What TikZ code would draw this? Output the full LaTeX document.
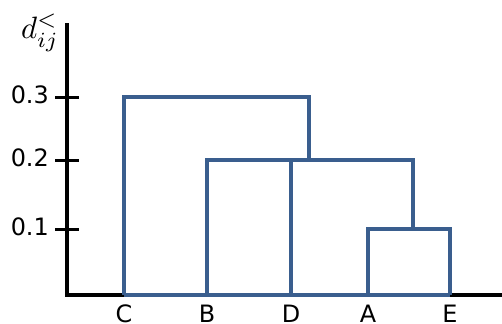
\documentclass[tikz,border=0pt]{standalone}
\usepackage{fontspec}
\setmainfont{DejaVu Sans}
\definecolor{treeblue}{HTML}{3A5E8E}
\begin{document}
\begin{tikzpicture}[x=1bp,y=-1bp,
  axisline/.style={line width=4bp,black},
  tickline/.style={line width=3bp,black},
  branch/.style={line width=4bp,treeblue,line join=miter},
  ticklabel/.style={anchor=east,font=\fontsize{24}{24}\selectfont,inner sep=0pt},
  leaflabel/.style={anchor=north,font=\fontsize{24}{24}\selectfont,inner sep=0pt}]
\useasboundingbox (0,0) rectangle (502,323);

% axes
\coordinate (top) at (67,23);
\coordinate (origin) at (67,295);
\coordinate (right) at (503,295);
\draw[axisline] (top) -- (origin) -- (right);

% ticks and their values
\foreach \name/\yy/\val in {t3/97/0.3, t2/160/0.2, t1/229/0.1}{
  \coordinate (\name a) at (55,\yy);
  \coordinate (\name b) at (79,\yy);
  \draw[tickline] (\name a) -- (\name b);
  \node[ticklabel] (\name lab) at (49,\yy-2) {\val};
}
\node[inner sep=0pt,scale=3.1] (ylab) at (40,33) {$d_{ij}^{<}$};

% leaves on the baseline
\coordinate (C) at (124,295);
\coordinate (B) at (207,295);
\coordinate (D) at (291,295);
\coordinate (A) at (368,295);
\coordinate (E) at (450,295);
\foreach \leaf in {C,B,D,A,E}
  \node[leaflabel] (\leaf lab) at ([yshift=-10bp]\leaf) {\leaf};

% merge points
\coordinate (ae) at (413,229);
\coordinate (bdae) at (309,160);
\coordinate (root) at (124,97);

\draw[branch] (C) -- (E);
\draw[branch] (A) |- (ae) -| (E);
\draw[branch] (B) |- (bdae) -| (ae);
\draw[branch] (D) -- (D |- bdae);
\draw[branch] (C) |- (root) -| (bdae);
\end{tikzpicture}
\end{document}
